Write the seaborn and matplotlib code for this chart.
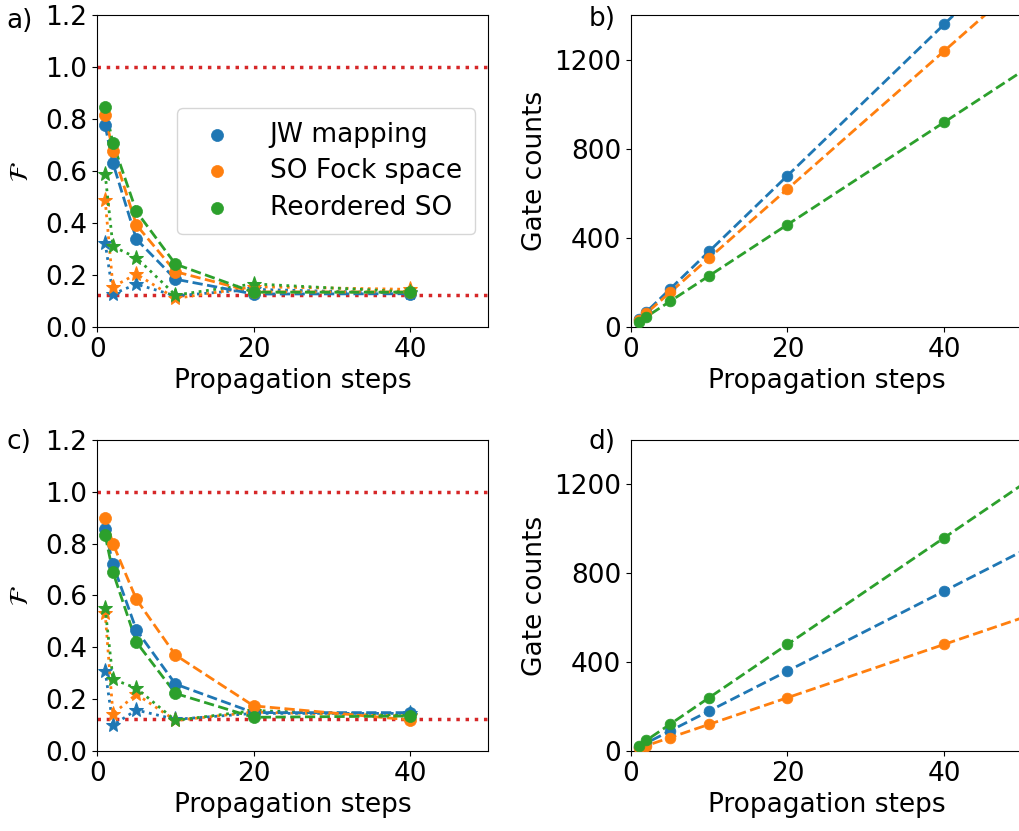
import numpy as np
import pandas as pd
import matplotlib
matplotlib.use("Agg")
import matplotlib.pyplot as plt
import seaborn as sns

# Propagation steps
steps = [1, 2, 5, 10, 20, 40]
# gate-count points go beyond the visible x range (lines run off the right edge)
steps_gates = [1, 2, 5, 10, 20, 40, 100]

labels = ["JW mapping", "SO Fock space", "Reordered SO"]
colors = ["#1f77b4", "#ff7f0e", "#2ca02c"]

# a) fidelity (circles, dashed) and second measure (stars, dotted)
fid_a_jw = [0.776, 0.631, 0.338, 0.184, 0.127, 0.128]
fid_a_so = [0.818, 0.676, 0.393, 0.213, 0.135, 0.135]
fid_a_re = [0.847, 0.708, 0.445, 0.242, 0.134, 0.134]
star_a_jw = [0.325, 0.127, 0.165, 0.120, 0.145, 0.130]
star_a_so = [0.490, 0.155, 0.204, 0.110, 0.155, 0.145]
star_a_re = [0.590, 0.310, 0.267, 0.123, 0.166, 0.135]

# c)
fid_c_jw = [0.855, 0.720, 0.467, 0.258, 0.148, 0.148]
fid_c_so = [0.900, 0.800, 0.585, 0.370, 0.174, 0.120]
fid_c_re = [0.833, 0.690, 0.420, 0.222, 0.130, 0.135]
star_c_jw = [0.310, 0.100, 0.158, 0.122, 0.145, 0.145]
star_c_so = [0.533, 0.143, 0.219, 0.118, 0.150, 0.135]
star_c_re = [0.553, 0.277, 0.242, 0.118, 0.156, 0.137]

# b) gate counts
gates_b_jw = [34, 68, 170, 340, 680, 1360, 3400]
gates_b_so = [31, 62, 155, 310, 620, 1240, 3100]
gates_b_re = [23, 46, 115, 230, 460, 920, 2300]

# d) gate counts
gates_d_jw = [18, 36, 90, 180, 360, 720, 1800]
gates_d_so = [12, 24, 60, 120, 240, 480, 1200]
gates_d_re = [24, 48, 120, 240, 480, 960, 2400]

FS = 19

plt.rcParams['font.family'] = ['DejaVu Sans']
plt.rcParams['font.size'] = FS

fig = plt.figure(figsize=(10.19, 8.31), dpi=100)
ax_a = fig.add_axes([0.0955, 0.6065, 0.3835, 0.3750])
ax_b = fig.add_axes([0.6190, 0.6065, 0.3845, 0.3750])
ax_c = fig.add_axes([0.0955, 0.0963, 0.3835, 0.3742])
ax_d = fig.add_axes([0.6190, 0.0963, 0.3845, 0.3742])


def fidelity_panel(ax, fids, stars, legend=False):
    ax.axhline(1.0, color="#d62728", linestyle=":", linewidth=2.5, zorder=1)
    ax.axhline(0.125, color="#d62728", linestyle=":", linewidth=2.5, zorder=1)
    for lab, c, f, s in zip(labels, colors, fids, stars):
        sns.lineplot(x=steps, y=s, ax=ax, color=c, linestyle=":", linewidth=2,
                     marker="*", markersize=11, markeredgecolor=c, zorder=2)
        sns.lineplot(x=steps, y=f, ax=ax, color=c, linestyle="--", linewidth=2, zorder=3)
        sns.scatterplot(x=steps, y=f, ax=ax, color=c, s=75, edgecolor=c,
                        linewidth=0.5, label=lab if legend else None, zorder=4)
    ax.set_xlim(0, 50)
    ax.set_ylim(0, 1.2)
    ax.set_xticks([0, 20, 40])
    ax.set_yticks(np.arange(0, 1.21, 0.2))
    ax.set_xlabel("Propagation steps", fontsize=FS)
    ax.set_ylabel(r"$\mathcal{F}$", fontsize=FS, labelpad=8)
    ax.tick_params(labelsize=FS)
    if legend:
        ax.legend(loc="center right", fontsize=FS, handletextpad=1.0,
                  borderpad=0.5, labelspacing=0.4, markerscale=1.0)
    else:
        if ax.get_legend() is not None:
            ax.get_legend().remove()


def gates_panel(ax, gates):
    for c, g in zip(colors, gates):
        sns.lineplot(x=steps_gates, y=g, ax=ax, color=c, linestyle="--", linewidth=2, zorder=2)
        sns.scatterplot(x=steps_gates, y=g, ax=ax, color=c, s=60, edgecolor=c,
                        linewidth=0.5, zorder=3)
    ax.set_xlim(0, 50)
    ax.set_ylim(0, 1400)
    ax.set_xticks([0, 20, 40])
    ax.set_yticks([0, 400, 800, 1200])
    ax.set_xlabel("Propagation steps", fontsize=FS)
    ax.set_ylabel("Gate counts", fontsize=FS)
    ax.tick_params(labelsize=FS)
    if ax.get_legend() is not None:
        ax.get_legend().remove()


fidelity_panel(ax_a, [fid_a_jw, fid_a_so, fid_a_re], [star_a_jw, star_a_so, star_a_re], legend=True)
fidelity_panel(ax_c, [fid_c_jw, fid_c_so, fid_c_re], [star_c_jw, star_c_so, star_c_re])
gates_panel(ax_b, [gates_b_jw, gates_b_so, gates_b_re])
gates_panel(ax_d, [gates_d_jw, gates_d_so, gates_d_re])

fig.text(0.006, 0.975, "a)", fontsize=FS, va="center")
fig.text(0.578, 0.977, "b)", fontsize=FS, va="center")
fig.text(0.006, 0.468, "c)", fontsize=FS, va="center")
fig.text(0.578, 0.468, "d)", fontsize=FS, va="center")

fig.savefig("out.png", dpi=100)
